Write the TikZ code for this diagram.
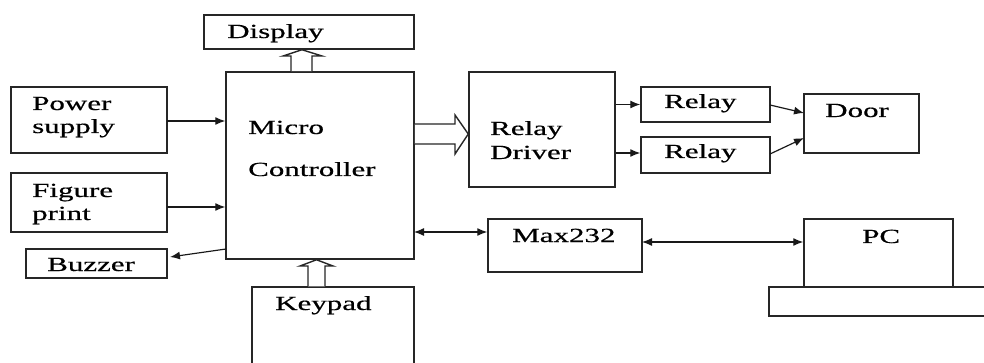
\documentclass[tikz,border=0pt]{standalone}
\usepackage{fontspec}
\setmainfont[FakeStretch=1.55,FakeBold=0.6]{Liberation Serif}
\usetikzlibrary{arrows.meta}
\begin{document}
\begin{tikzpicture}[x=1pt,y=-1pt,
  box/.style={draw=black!85,line width=1.5pt,rectangle,inner sep=0pt},
  lbl/.style={font=\fontsize{20}{22}\selectfont,text=black,inner sep=0pt,anchor=base west},
  conn/.style={draw=black!90,line width=1.2pt,-{Latex[length=10pt,width=8pt]}},
  dconn/.style={draw=black!90,line width=1.2pt,{Latex[length=10pt,width=8pt]}-{Latex[length=10pt,width=8pt]}},
  hollow/.style={draw=black!85,line width=1.4pt,fill=white,line join=miter}]
\useasboundingbox (0,0) rectangle (984,363);
\clip (0,0) rectangle (984,363);
% boxes
\node[box,minimum width=210pt,minimum height=34pt] (disp) at (309,32) {};
\node[box,minimum width=188pt,minimum height=187pt] (mc) at (320,165.5) {};
\node[box,minimum width=156pt,minimum height=66pt] (ps) at (89,120) {};
\node[box,minimum width=156pt,minimum height=59pt] (fp) at (89,202.5) {};
\node[box,minimum width=141pt,minimum height=29pt] (buz) at (96.5,263.5) {};
\node[box,minimum width=162pt,minimum height=90pt] (kp) at (333,332) {};
\node[box,minimum width=146pt,minimum height=115pt] (rd) at (542,129.5) {};
\node[box,minimum width=129pt,minimum height=35pt] (r1) at (705.5,104.5) {};
\node[box,minimum width=129pt,minimum height=36pt] (r2) at (705.5,155) {};
\node[box,minimum width=115pt,minimum height=59pt] (door) at (861.5,123.5) {};
\node[box,minimum width=154pt,minimum height=53pt] (max) at (565,245.5) {};
\node[box,minimum width=149pt,minimum height=68pt] (pc) at (878.5,253) {};
\node[box,minimum width=240pt,minimum height=29pt] (base) at (889,301.5) {};
% labels
\node[lbl] (tdisp) at (227,38) {Display};
\node[lbl] (tps1) at (32,110) {Power};
\node[lbl] (tps2) at (32,133) {supply};
\node[lbl] (tmc1) at (248,134) {Micro};
\node[lbl] (tmc2) at (248,176) {Controller};
\node[lbl] (tfp1) at (32,197) {Figure};
\node[lbl] (tfp2) at (32,220) {print};
\node[lbl] (tbuz) at (47,271) {Buzzer};
\node[lbl] (tkp) at (275,310) {Keypad};
\node[lbl] (trd1) at (490,135) {Relay};
\node[lbl] (trd2) at (490,159) {Driver};
\node[lbl] (tr1) at (664,108) {Relay};
\node[lbl] (tr2) at (664,158) {Relay};
\node[lbl] (tdoor) at (825,117) {Door};
\node[lbl] (tmax) at (512,242) {Max232};
\node[lbl] (tpc) at (862,243) {PC};
% hollow arrows
\draw[hollow] (mc.north -| 291,0) -- (291,56) -- (283,56) -- (disp.south -| 302,0) -- (322,56) -- (312,56) -- (mc.north -| 312,0);
\draw[hollow] (kp.north -| 308,0) -- (308,266) -- (300,266) -- (mc.south -| 316.5,0) -- (333,266) -- (325,266) -- (kp.north -| 325,0);
\draw[hollow] (mc.east |- 0,124) -- (455,124) -- (455,115) -- (rd.west |- 0,134) -- (455,154) -- (455,144) -- (mc.east |- 0,144);
% coordinates for connector ends
\coordinate (pso) at (167,121);
\coordinate (fpo) at (167,207);
\coordinate (mcb) at (226,249);
\coordinate (buzi) at (170,257);
\coordinate (mcm) at (414,232);
\coordinate (maxp) at (642,242);
\coordinate (r1o) at (770,105);
\coordinate (d1) at (804,113);
\coordinate (r2o) at (770,154);
\coordinate (d2) at (804,138);
% connectors
\draw[conn] (pso) -- (pso -| mc.west);
\draw[conn] (fpo) -- (fpo -| mc.west);
\draw[conn] (mcb) -- (buzi);
\draw[dconn] (mcm) -- (mcm -| max.west);
\draw[dconn] (maxp) -- (maxp -| pc.west);
\draw[conn] (r1.west -| rd.east) -- (r1.west);
\draw[conn] ([yshift=2pt]r2.west -| rd.east) -- ([yshift=2pt]r2.west);
\draw[conn] (r1o) -- (d1);
\draw[conn] (r2o) -- (d2);
\end{tikzpicture}
\end{document}
